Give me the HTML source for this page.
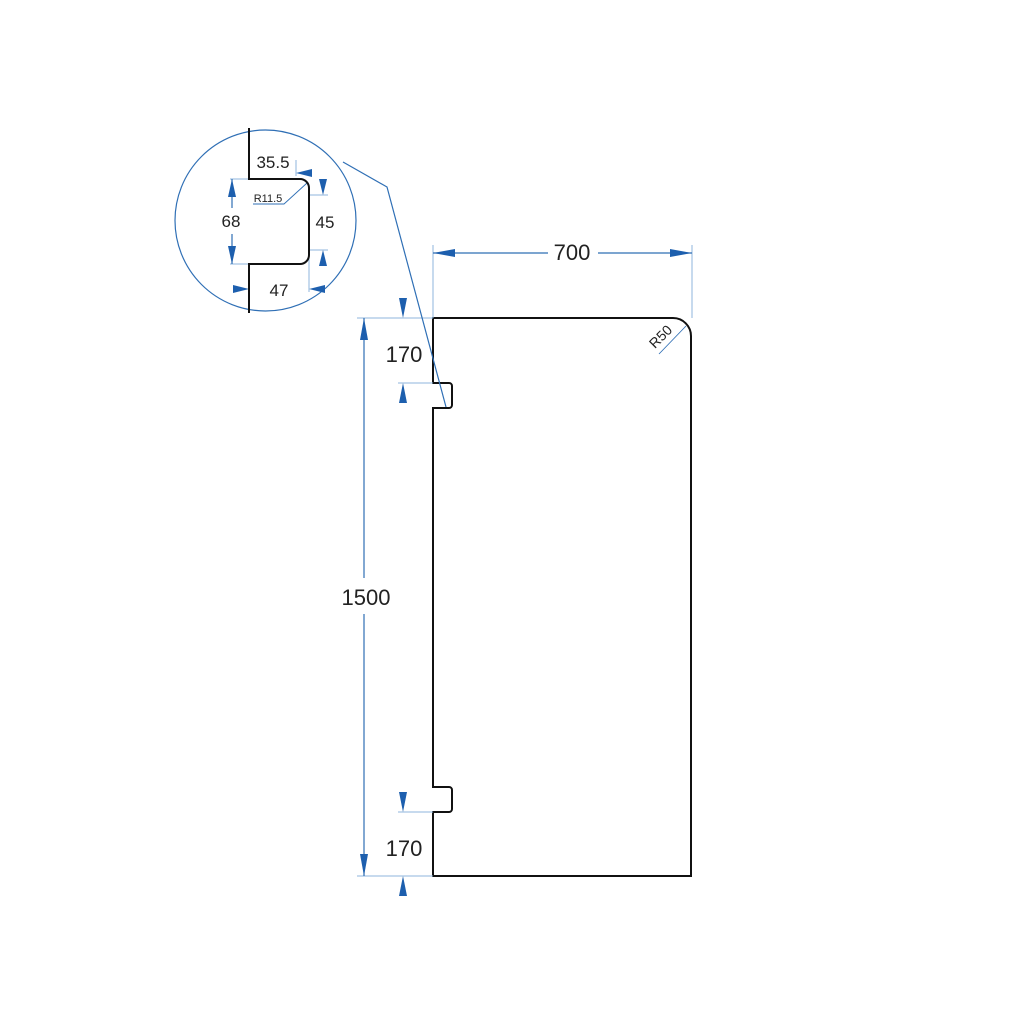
<!DOCTYPE html>
<html><head><meta charset="utf-8"><style>html,body{margin:0;padding:0;background:#fff}svg{display:block}</style></head>
<body>
<svg width="1024" height="1024" viewBox="0 0 1024 1024" xmlns="http://www.w3.org/2000/svg" font-family="'Liberation Sans', sans-serif">
<rect width="1024" height="1024" fill="#fff"/>
<!-- main shape -->
<path d="M433,318 H673 A18,18 0 0 1 691,336 V876 H433 V812 H449 A3,3 0 0 0 452,809 V790 A3,3 0 0 0 449,787 H433 V408 H449 A3,3 0 0 0 452,405 V386 A3,3 0 0 0 449,383 H433 Z" fill="none" stroke="#111" stroke-width="2"/>
<!-- extension lines light blue -->
<g stroke="#8fb6dc" stroke-width="1" fill="none">
<line x1="433" y1="245" x2="433" y2="318"/>
<line x1="692" y1="245" x2="692" y2="318"/>
<line x1="357" y1="318" x2="433" y2="318"/>
<line x1="357" y1="876" x2="433" y2="876"/>
<line x1="398" y1="383" x2="433" y2="383"/>
<line x1="398" y1="812" x2="433" y2="812"/>
<line x1="296" y1="160" x2="296" y2="176"/>
<line x1="230" y1="179" x2="249" y2="179"/>
<line x1="230" y1="264" x2="249" y2="264"/>
<line x1="309" y1="195" x2="328" y2="195"/>
<line x1="309" y1="250" x2="328" y2="250"/>
<line x1="309" y1="258" x2="309" y2="292"/>
</g>
<!-- dimension lines blue -->
<g stroke="#2f6fb5" stroke-width="1.2" fill="none">
<line x1="433" y1="253" x2="548" y2="253"/>
<line x1="598" y1="253" x2="692" y2="253"/>
<line x1="364" y1="318" x2="364" y2="578"/>
<line x1="364" y1="614" x2="364" y2="876"/>
<line x1="232" y1="179" x2="232" y2="208"/>
<line x1="232" y1="234" x2="232" y2="264"/>
<circle cx="265.5" cy="220.5" r="90.5" stroke="#2f6fb5"/>
<polyline points="343,162 387,187 446,407"/>
<polyline points="253,204 284,204 307,183" stroke-width="0.9"/>
<line x1="659" y1="354" x2="686" y2="326" stroke-width="0.9"/>
</g>
<!-- arrowheads -->
<g fill="#1d5fae">
<polygon points="433,253 455,249 455,257"/>
<polygon points="692,253 670,249 670,257"/>
<polygon points="364,318 360,340 368,340"/>
<polygon points="364,876 360,854 368,854"/>
<polygon points="403,318 399,298 407,298"/>
<polygon points="403,383 399,403 407,403"/>
<polygon points="403,812 399,792 407,792"/>
<polygon points="403,876 399,896 407,896"/>
<polygon points="296,173 312,169 312,177"/>
<polygon points="232,179 228,197 236,197"/>
<polygon points="232,264 228,246 236,246"/>
<polygon points="323,195 319,179 327,179"/>
<polygon points="323,250 319,266 327,266"/>
<polygon points="249,289 233,285 233,293"/>
<polygon points="309,289 325,285 325,293"/>
</g>
<!-- detail profile -->
<path d="M249,128 V179 H300 A9,9 0 0 1 309,188 V255 A9,9 0 0 1 300,264 H249 V313" fill="none" stroke="#111" stroke-width="2"/>
<!-- text -->
<g fill="#222" text-anchor="middle">
<text x="572" y="260" font-size="22">700</text>
<text x="366" y="605" font-size="22">1500</text>
<text x="404" y="362" font-size="22">170</text>
<text x="404" y="856" font-size="22">170</text>
<text x="273" y="168" font-size="17">35.5</text>
<text x="231" y="227" font-size="17">68</text>
<text x="325" y="228" font-size="17">45</text>
<text x="279" y="296" font-size="17">47</text>
<text x="268" y="202" font-size="11">R11.5</text>
<text x="0" y="0" font-size="14" transform="translate(664,340) rotate(-45)">R50</text>
</g>
</svg>
</body></html>
